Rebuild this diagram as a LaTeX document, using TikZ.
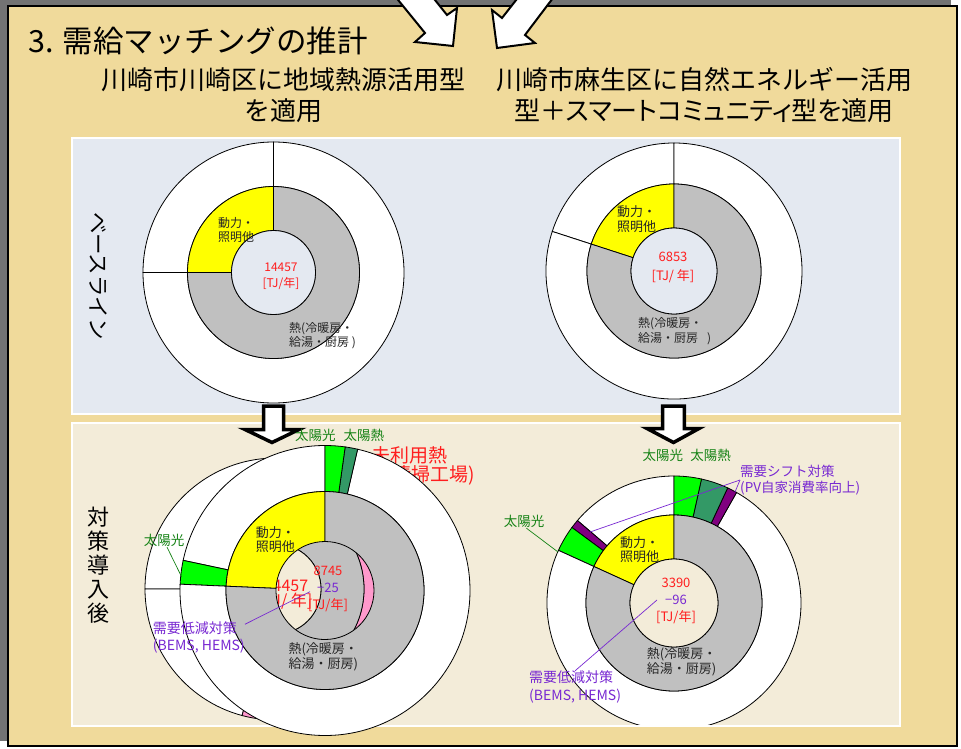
\documentclass[tikz,border=0pt]{standalone}
\usepackage{fontspec}
\setmainfont{Noto Sans CJK JP}
\usetikzlibrary{positioning}
\definecolor{boxfill}{RGB}{240,218,155}
\definecolor{basefill}{RGB}{228,233,241}
\definecolor{afterfill}{RGB}{243,236,217}
\definecolor{powerseg}{RGB}{255,255,0}
\definecolor{heatseg}{RGB}{192,192,192}
\definecolor{pvseg}{RGB}{0,255,0}
\definecolor{solarseg}{RGB}{51,153,102}
\definecolor{shiftseg}{RGB}{128,0,128}
\definecolor{wasteseg}{RGB}{255,153,204}
\definecolor{pvtext}{RGB}{20,130,20}
\definecolor{dsmtext}{RGB}{120,40,210}
\definecolor{totaltext}{RGB}{255,30,30}
\newcommand*{\fs}[2]{\fontsize{#1}{#2}\selectfont}
\newcommand*{\prop}{\addfontfeatures{RawFeature=+palt}}
% centre, inner radius, outer radius, from, to, fill
\newcommand*{\ringseg}[6]{%
    \filldraw [ring, fill=#6] ([shift={(#4:#3)}]#1) arc [start angle=#4, end angle=#5, radius=#3]
        -- ([shift={(#5:#2)}]#1) arc [start angle=#5, end angle=#4, radius=#2] -- cycle;}
\tikzstyle{ring} = [draw=black, line width=0.8pt]
\tikzstyle{panel} = [draw=white, line width=2pt]
\tikzstyle{bigarrow} = [draw=black, fill=white, line join=miter]
\tikzstyle{caption} = [font=\fs{26}{31}, align=center, inner sep=0pt]
\tikzstyle{seglabel} = [font=\fs{12}{14.5}, align=left, inner sep=0pt, text=black!85, anchor=west]
\tikzstyle{total} = [font=\fs{13}{17}, align=center, inner sep=0pt, text=totaltext]
\tikzstyle{pvlabel} = [font=\fs{13.5}{16}, inner sep=0pt, text=pvtext]
\tikzstyle{dsmlabel} = [font=\fs{14}{17.5}, align=left, inner sep=0pt, text=dsmtext, anchor=west]
\tikzstyle{lead} = [line width=0.7pt]

\begin{document}
\begin{tikzpicture}[x=1pt, y=1pt]
    \useasboundingbox (0,0) rectangle (961,-749);

    % Frame.
    \fill [black!55] (0,0) rectangle (951,-741);
    \filldraw [fill=boxfill, draw=black, line width=1.5pt] (8,-6) rectangle (957,-746);

    % Arrows coming in from above.
    \filldraw [bigarrow, line width=2pt] (390,10) -- (425,-33) -- (415,-42) -- (453,-46)
        -- (457,-8) -- (447,-15) -- (427,10) -- cycle;
    \filldraw [bigarrow, line width=2pt] (524,10) -- (502,-18) -- (492,-10) -- (497,-48)
        -- (535,-43) -- (525,-35) -- (559,10) -- cycle;

    \node (title) [anchor=west, font=\fs{30.5}{34}, inner sep=0pt] at (28,-41) {3. 需給マッチングの推計};
    \node (cap left) [caption] at (283,-95.5) {川崎市川崎区に地域熱源活用型\\を適用};
    \node (cap right) [caption] at (704,-95.5) {川崎市麻生区に自然エネルギー活用\\{\prop 型＋スマートコミュニティ型を適用}};

    % Panels.
    \draw [panel, fill=basefill] (72,-138) rectangle (900,-414);
    \draw [panel, fill=afterfill] (72,-423) rectangle (900,-726);
    \node (base title) [rotate=-90, font=\fs{21.5}{21.5}, inner sep=0pt] at (98,-276) {ベースライン};
    \node (after title) [align=center, font=\fs{22}{24}, inner sep=0pt] at (98,-565) {対\\策\\導\\入\\後};

    \coordinate (ul) at (273.5,-272.5);
    \coordinate (ur) at (674,-271);
    \coordinate (lb) at (276,-589);
    \coordinate (lf) at (325,-590.5);
    \coordinate (lr) at (674,-603);

    % Baseline, left.
    \foreach \a/\b in {90/180, 180/450}
        \ringseg{ul}{86}{130.5}{\a}{\b}{white};
    \ringseg{ul}{42}{86}{90}{180}{powerseg};
    \ringseg{ul}{42}{86}{180}{450}{heatseg};
    \filldraw [ring, fill=basefill] (ul) circle [radius=42];
    \node (ul power) [seglabel] at (218,-230) {動力・\\照明他};
    \node (ul total) [total, font=\fs{12}{16}] at (281,-276) {14457\\{[}TJ/年]};
    \node (ul heat) [seglabel] at (289,-335.5) {熱(冷暖房・\\給湯・厨房 )};

    % Baseline, right.
    \foreach \a/\b in {90/162, 162/450}
        \ringseg{ur}{87}{128}{\a}{\b}{white};
    \ringseg{ur}{43}{87}{90}{162}{powerseg};
    \ringseg{ur}{43}{87}{162}{450}{heatseg};
    \filldraw [ring, fill=basefill] (ur) circle [radius=43];
    \node (ur power) [seglabel, font=\fs{13}{15}] at (617,-219.5) {動力・\\照明他};
    \node (ur total) [total, font=\fs{13}{19}] at (673,-267.5) {6853\\{[}TJ/ 年]};
    \node (ur heat) [seglabel] at (638,-331) {熱(冷暖房・\\給湯・厨房\hspace{9pt})};

    % Down arrows.
    \filldraw [bigarrow, line width=3.5pt] (263.5,-406) -- (263.5,-429.5) -- (245,-429.5) -- (272,-442.5)
        -- (299,-429.5) -- (283.5,-429.5) -- (283.5,-406) -- cycle;
    \filldraw [bigarrow, line width=3.5pt] (662.7,-406) -- (662.7,-428.5) -- (647,-428.5) -- (673.5,-442.5)
        -- (699,-428.5) -- (684.3,-428.5) -- (684.3,-406) -- cycle;

    % After, left: the chart behind.
    \foreach \a/\b/\c in {90/180/white, 180/255/white, 255/265/wasteseg, 265/330/white, 330/390/wasteseg, 390/450/white}
        \ringseg{lb}{88}{131}{\a}{\b}{\c};
    \ringseg{lb}{45}{88}{90}{180}{powerseg};
    \ringseg{lb}{45}{88}{180}{450}{heatseg};
    \filldraw [ring, fill=afterfill] (lb) circle [radius=45];
    \node (lb total) [total, font=\fs{16}{15.5}] at (286,-594.5) {14457\\{[}TJ/ 年]};
    \node (lb waste) [anchor=west, align=left, text=totaltext, font=\fs{19}{16.5}, inner sep=0pt] at (371,-466)
        {未利用熱\\\hspace*{15pt}(清掃工場)};

    % After, left: the chart in front.
    \foreach \a/\b/\c in {90/168/white, 168/177.5/pvseg, 177.5/437/white, 437/442/solarseg, 442/450/pvseg}
        \ringseg{lf}{99}{145}{\a}{\b}{\c};
    \ringseg{lf}{49}{99}{90}{177.5}{powerseg};
    \ringseg{lf}{49}{99}{177.5}{450}{heatseg};
    \node (lf pv) [pvlabel] at (315.3,-435) {太陽光};
    \node (lf solar) [pvlabel] at (363.8,-435) {太陽熱};
    \node (lf pv l) [pvlabel] at (164,-540.7) {太陽光};
    \node (lf power) [seglabel, font=\fs{13}{14.5}] at (255.7,-539.5) {動力・\\照明他};
    \node (lf total) [total] at (328,-588.5) {8745\\\textcolor{dsmtext}{−25}\\{[}TJ/年]};
    \node (lf heat) [seglabel, font=\fs{13}{15.5}] at (288.3,-657) {熱(冷暖房・\\給湯・厨房)};
    \node (lf dsm) [dsmlabel] at (152.7,-637.5) {需要低減対策\\(BEMS, HEMS)};
    \coordinate (lf pv end) at (181.7,-577);
    \coordinate (lf dsm end) at (310,-591.7);
    \draw [lead, pvtext] (lf pv l.-65) -- (lf pv end);
    \draw [lead, dsmtext] (lf dsm.16) -- (lf dsm end);

    % After, right.
    \begin{scope}
        \clip (500,-430) rectangle (880,-724);
        \foreach \a/\b/\c in {90/139.5/white, 139.5/143.5/shiftseg, 143.5/155.5/pvseg, 155.5/420.5/white, 420.5/425/shiftseg, 425/437.5/solarseg, 437.5/450/pvseg}
            \ringseg{lr}{88}{127}{\a}{\b}{\c};
    \end{scope}
    \ringseg{lr}{44}{88}{90}{155.5}{powerseg};
    \ringseg{lr}{44}{88}{155.5}{450}{heatseg};
    \filldraw [ring, fill=afterfill] (lr) circle [radius=44];
    \node (lr pv) [pvlabel] at (662.8,-455) {太陽光};
    \node (lr solar) [pvlabel] at (710.5,-455) {太陽熱};
    \node (lr pv l) [pvlabel] at (524,-521.7) {太陽光};
    \node (lr shift) [dsmlabel, font=\fs{13.5}{16.5}] at (740,-480) {需要シフト対策\\(PV自家消費率向上)};
    \node (lr power) [seglabel, font=\fs{13}{14.5}] at (620,-549.5) {動力・\\照明他};
    \node (lr total) [total] at (676,-601) {3390\\\textcolor{dsmtext}{−96}\\{[}TJ/年]};
    \node (lr heat) [seglabel, font=\fs{13}{14.5}] at (646.7,-662) {熱(冷暖房・\\給湯・厨房)};
    \node (lr dsm) [dsmlabel] at (529,-687) {需要低減対策\\(BEMS, HEMS)};
    \coordinate (lr pv end) at (558,-552);
    \coordinate (lr shift l) at (590,-532);
    \coordinate (lr shift r) at (735,-492);
    \coordinate (lr dsm end) at (657,-600);
    \draw [lead, pvtext] (lr pv l.-70) -- (lr pv end);
    \draw [lead, dsmtext] (lr shift.west) -- (lr shift l);
    \draw [lead, dsmtext] (lr shift.west) -- (lr shift r);
    \draw [lead, dsmtext] (lr dsm.north) -- (lr dsm end);
\end{tikzpicture}
\end{document}
